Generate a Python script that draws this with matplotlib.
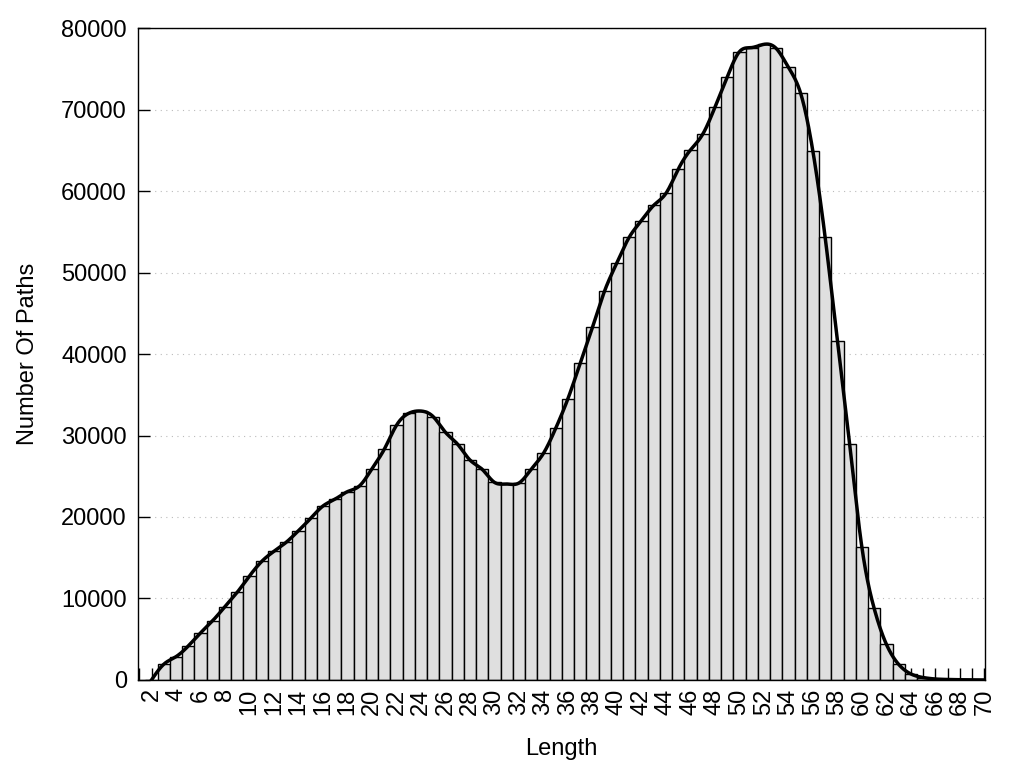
import matplotlib
matplotlib.use("Agg")
import matplotlib.pyplot as plt
import numpy as np
from matplotlib.ticker import MultipleLocator

# path length histogram
lengths = list(range(2, 71))
counts = [
    0, 1930, 2860, 4170, 5770, 7280, 9000, 10760, 12760, 14550,
    15790, 16900, 18320, 19840, 21350, 22200, 23110, 23840, 25930, 28300,
    31250, 32720, 33000, 32310, 30390, 28920, 26990, 25850, 24250, 24050,
    24170, 25850, 27810, 30880, 34520, 38850, 43270, 47770, 51210, 54320,
    56360, 58240, 59710, 62660, 65030, 66960, 70270, 73950, 77090, 77600,
    78000, 77500, 75180, 71990, 64870, 54320, 41640, 28920, 16280, 8790,
    4380, 1920, 740, 300, 120, 60, 30, 15, 5,
]
y_ticks = [0, 10000, 20000, 30000, 40000, 50000, 60000, 70000, 80000]


def natural_spline(x, y, n_out=1200):
    x = np.asarray(x, float)
    y = np.asarray(y, float)
    n = len(x)
    h = np.diff(x)
    A = np.zeros((n, n))
    b = np.zeros(n)
    A[0, 0] = 1.0
    A[-1, -1] = 1.0
    for i in range(1, n - 1):
        A[i, i - 1] = h[i - 1]
        A[i, i] = 2 * (h[i - 1] + h[i])
        A[i, i + 1] = h[i]
        b[i] = 6 * ((y[i + 1] - y[i]) / h[i] - (y[i] - y[i - 1]) / h[i - 1])
    M = np.linalg.solve(A, b)
    xs = np.linspace(x[0], x[-1], n_out)
    idx = np.clip(np.searchsorted(x, xs) - 1, 0, n - 2)
    x0, x1 = x[idx], x[idx + 1]
    hh = x1 - x0
    a = (x1 - xs) / hh
    c = (xs - x0) / hh
    ys = (a * y[idx] + c * y[idx + 1]
          + ((a ** 3 - a) * M[idx] + (c ** 3 - c) * M[idx + 1]) * hh ** 2 / 6)
    return xs, ys


plt.rcParams["font.family"] = ["Liberation Sans", "DejaVu Sans"]

fig = plt.figure(figsize=(10.24, 7.68), dpi=100)
ax = fig.add_axes([0.1348, 0.1146, 0.8271, 0.8489])

ax.bar(lengths, counts, width=1.0, color="#dfdfdf", edgecolor="black", linewidth=1.0, zorder=1)
xs, ys = natural_spline(lengths, counts)
ax.plot(xs, ys, color="black", linewidth=2.5, zorder=3)

ax.set_xlim(0.9, 70.05)
ax.set_ylim(0, 80000)
ax.set_yticks(y_ticks)
ax.xaxis.set_major_locator(MultipleLocator(2))
ax.xaxis.set_minor_locator(MultipleLocator(1))
ax.tick_params(axis="x", which="both", direction="in", length=8.6, width=1,
               top=False, labelrotation=90, labelsize=17, pad=6)
ax.tick_params(axis="y", which="both", direction="in", length=8.6, width=1,
               right=False, labelsize=17, pad=8)

ax.set_axisbelow(True)
ax.yaxis.grid(True, linestyle=(0, (1, 4)), color="#bbbbbb", linewidth=0.8)
for s in ax.spines.values():
    s.set_linewidth(1.0)
    s.set_zorder(4)

ax.set_xlabel("Length", fontsize=17, labelpad=17)
ax.set_ylabel("Number Of Paths", fontsize=17, labelpad=16)

fig.savefig("out.png", dpi=100)
